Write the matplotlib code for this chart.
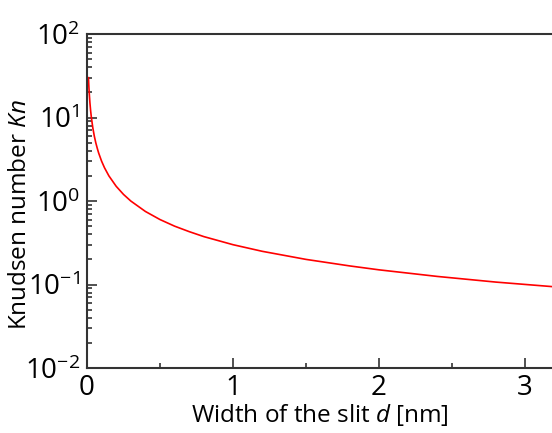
import numpy as np
import matplotlib.pyplot as plt
from matplotlib.ticker import LogLocator, MultipleLocator, NullFormatter

plt.rcParams['font.family'] = ['Open Sans', 'DejaVu Sans']
plt.rcParams['mathtext.fontset'] = 'custom'
plt.rcParams['mathtext.rm'] = 'Open Sans'
plt.rcParams['mathtext.it'] = 'Open Sans:italic'

# 读图得到的数据点 (d [nm], Kn)
d = [0.01, 0.012, 0.015, 0.02, 0.025, 0.03, 0.04, 0.05, 0.06, 0.07, 0.08, 0.1,
     0.12, 0.15, 0.2, 0.25, 0.3, 0.4, 0.5, 0.6, 0.7, 0.8, 1.0, 1.2, 1.5,
     1.8, 2.0, 2.4, 2.8, 3.2]
kn = [30, 25, 20, 15, 12, 10, 7.5, 6.0, 5.0, 4.3, 3.75, 3.0,
      2.5, 2.0, 1.5, 1.2, 1.0, 0.75, 0.6, 0.5, 0.43, 0.375, 0.3, 0.25, 0.2,
      0.167, 0.15, 0.125, 0.107, 0.094]

fig = plt.figure(figsize=(5.52, 4.33), dpi=100)
ax = fig.add_axes([0.1576, 0.150, 0.8424, 0.7715])

ax.plot(d, kn, color='red', lw=1.2)

ax.set_yscale('log')
ax.set_ylim(1e-2, 1e2)
ax.set_xlim(0, 3.185)

ax.xaxis.set_major_locator(MultipleLocator(1))
ax.xaxis.set_minor_locator(MultipleLocator(0.5))
ax.yaxis.set_major_locator(LogLocator(base=10, numticks=10))
ax.yaxis.set_minor_locator(LogLocator(base=10, subs=np.arange(2, 10), numticks=10))
ax.yaxis.set_minor_formatter(NullFormatter())

for s in ['left', 'bottom', 'top']:
    ax.spines[s].set_linewidth(1.5)
    ax.spines[s].set_color('#333333')
ax.spines['right'].set_visible(False)

ax.tick_params(which='both', direction='in', top=False, right=False,
               colors='#333333', labelcolor='black', labelsize=20, width=1.2)
ax.tick_params(which='major', length=7)
ax.tick_params(which='minor', length=3.5)
ax.tick_params(axis='x', which='major', pad=4)
ax.tick_params(axis='y', which='major', pad=5)

ax.set_xlabel('Width of the slit $d$ [nm]', fontsize=17.5, labelpad=0)
ax.set_ylabel('Knudsen number $Kn$', fontsize=17.5)
ax.yaxis.set_label_coords(-0.118, 0.46)

fig.savefig('out.png', dpi=100)
